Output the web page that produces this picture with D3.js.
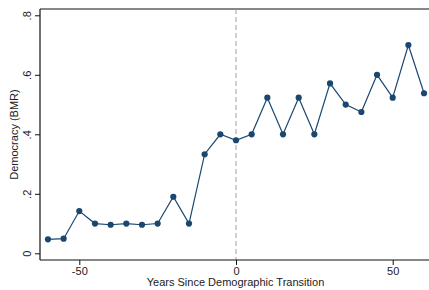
<!DOCTYPE html>
<html>
<head>
<meta charset="utf-8">
<script src="https://cdn.jsdelivr.net/npm/d3@7"></script>
<style>
  body { margin: 0; background: #fff; }
  svg { display: block; font-family: "Liberation Sans", Arial, sans-serif; }
</style>
</head>
<body>
<div id="chart-area"></div>
<script>
// years relative to the transition, and mean BMR democracy score
var years = [-60, -55, -50, -45, -40, -35, -30, -25, -20, -15, -10, -5, 0,
             5, 10, 15, 20, 25, 30, 35, 40, 45, 50, 55, 60];
var democracy = [0.047, 0.049, 0.142, 0.100, 0.096, 0.100, 0.096, 0.100, 0.190, 0.100, 0.333, 0.400, 0.380,
                 0.400, 0.523, 0.400, 0.523, 0.400, 0.571, 0.500, 0.475, 0.600, 0.523, 0.700, 0.538];
var xTicks = [-50, 0, 50];
var yTicks = [0, 0.2, 0.4, 0.6, 0.8];
var yTickLabels = ["0", ".2", ".4", ".6", ".8"];

var width = 429, height = 290;
var plotLeft = 40, plotTop = 9, plotBottom = 260;

var svg = d3.select("#chart-area").append("svg")
    .attr("width", width)
    .attr("height", height);

var x = d3.scaleLinear().domain([-50, 50]).range([79.3, 392.7]);
var y = d3.scaleLinear().domain([0, 0.8]).range([253.3, 15.3]);

// frame top (right side runs off the image)
svg.append("line")
    .attr("x1", plotLeft).attr("x2", width)
    .attr("y1", plotTop).attr("y2", plotTop)
    .attr("stroke", "#111").attr("stroke-width", 1.2);

// zero line
svg.append("line")
    .attr("x1", x(0)).attr("x2", x(0))
    .attr("y1", plotTop).attr("y2", plotBottom)
    .attr("stroke", "#a0a0a0")
    .attr("stroke-width", 1)
    .attr("stroke-dasharray", "5,3");

var xAxis = svg.append("g")
    .attr("transform", "translate(0," + plotBottom + ")")
    .call(d3.axisBottom(x).tickValues(xTicks).tickSize(5).tickPadding(2).tickFormat((d) => String(d)));
xAxis.select(".domain").attr("d", "M" + plotLeft + ",0H" + width).attr("stroke", "#111").attr("stroke-width", 1.2);

var yAxis = svg.append("g")
    .attr("transform", "translate(" + plotLeft + ",0)")
    .call(d3.axisLeft(y).tickValues(yTicks).tickSize(5).tickFormat((d, i) => yTickLabels[i]));
yAxis.select(".domain").attr("d", "M0," + plotTop + "V" + plotBottom).attr("stroke", "#111").attr("stroke-width", 1.2);

svg.selectAll(".tick line").attr("stroke", "#111");
svg.selectAll(".tick text")
    .attr("fill", "#222")
    .style("font-size", "11px")
    .style("font-family", "Liberation Sans, Arial, sans-serif");

yAxis.selectAll(".tick text")
    .attr("x", 0).attr("dy", 0)
    .attr("text-anchor", "middle")
    .attr("transform", "translate(-9,0) rotate(-90)");

// axis titles
svg.append("text")
    .attr("x", (plotLeft + width) / 2 + 1)
    .attr("y", 286)
    .attr("text-anchor", "middle")
    .attr("fill", "#222")
    .style("font-size", "11px")
    .text("Years Since Demographic Transition");

svg.append("text")
    .attr("transform", "translate(18," + ((plotTop + plotBottom) / 2) + ") rotate(-90)")
    .attr("text-anchor", "middle")
    .attr("fill", "#222")
    .style("font-size", "11px")
    .text("Democracy (BMR)");

var pts = years.map((d, i) => ({ year: d, value: democracy[i] }));

var line = d3.line()
    .x((d) => x(d.year))
    .y((d) => y(d.value));

svg.append("path")
    .datum(pts)
    .attr("d", line)
    .attr("fill", "none")
    .attr("stroke", "#1a476f")
    .attr("stroke-width", 1.2);

svg.selectAll("circle")
    .data(pts)
    .enter().append("circle")
    .attr("cx", (d) => x(d.year))
    .attr("cy", (d) => y(d.value))
    .attr("r", 3.1)
    .attr("fill", "#1a476f");
</script>
</body>
</html>
